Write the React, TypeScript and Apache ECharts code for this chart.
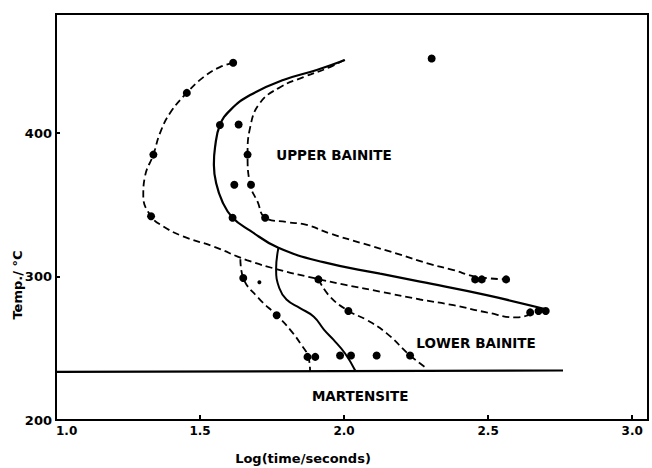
import React, { useEffect, useRef } from "react";
import * as echarts from "echarts";

// Experimental points: [log(time/s), temperature °C]
const dotPoints: number[][] = [
  [1.615, 449], [1.454, 428], [1.569, 405.6], [1.634, 406], [1.338, 385],
  [1.665, 385], [1.619, 364], [1.677, 364], [1.33, 342], [1.613, 341],
  [1.726, 341], [2.304, 452],
  [1.65, 299], [1.911, 298], [1.766, 273], [2.015, 276],
  [1.873, 244], [1.9, 244], [1.986, 245], [2.024, 245], [2.113, 245], [2.229, 245],
  [2.455, 298], [2.478, 298], [2.5625, 298], [2.646, 275], [2.675, 276], [2.7, 276],
];
const smallDots: number[][] = [[1.706, 296]];

// Curves
const outerDashed: number[][] = [
  [1.615, 449], [1.569, 446], [1.512, 439], [1.454, 428], [1.396, 414], [1.361, 400],
  [1.338, 385], [1.309, 370], [1.303, 356], [1.33, 342], [1.372, 335], [1.441, 328],
  [1.546, 321], [1.662, 311.5], [1.778, 304.5], [1.893, 299], [2.009, 294],
  [2.125, 289.5], [2.264, 284], [2.38, 280], [2.495, 275], [2.6, 271.5], [2.64, 273],
];
const innerDashed: number[][] = [
  [2.0, 451], [1.951, 446], [1.859, 439], [1.778, 432], [1.708, 421], [1.674, 404],
  [1.665, 385], [1.674, 364], [1.7, 352], [1.726, 341], [1.8, 338], [1.87, 336],
  [1.951, 330], [2.066, 323], [2.183, 316], [2.293, 309], [2.38, 304.5], [2.455, 300],
  [2.5625, 298],
];
const upperSolid: number[][] = [
  [2.003, 451], [1.905, 444], [1.789, 437], [1.674, 426.5], [1.605, 416], [1.569, 405.6],
  [1.552, 390], [1.548, 378], [1.556, 365], [1.578, 352], [1.613, 341], [1.674, 332],
  [1.772, 320], [1.928, 310], [2.125, 302], [2.264, 296.4], [2.495, 287], [2.704, 277],
];
const lowerSolid: number[][] = [
  [1.772, 320], [1.764, 305], [1.775, 292], [1.8, 284], [1.847, 278], [1.895, 272],
  [1.93, 263], [1.963, 256], [2.003, 246.5], [2.04, 234],
];
const lowerLeftDashed: number[][] = [
  [1.64, 312], [1.65, 299], [1.703, 285], [1.766, 273], [1.8125, 263], [1.853, 252],
  [1.876, 244], [1.882, 234],
];
const lowerRightDashed: number[][] = [
  [1.911, 298], [1.951, 286], [2.015, 276], [2.079, 269.7], [2.148, 260.4],
  [2.229, 245], [2.287, 236],
];
const martensiteLine: number[][] = [[1.0, 233.5], [2.76, 234.5]];

const regionLabels = [
  { name: "UPPER BAINITE", value: [1.965, 385] },
  { name: "LOWER BAINITE", value: [2.458, 254] },
  { name: "MARTENSITE", value: [2.056, 216.5] },
];

const xMin = 1.0;
const xMax = 3.055;
const yMin = 200;
const yMax = 483;

const FONT = "DejaVu Sans";

export default function App() {
  const ref = useRef<HTMLDivElement>(null);
  useEffect(() => {
    if (!ref.current) return;
    const chart = echarts.init(ref.current, null, { renderer: "svg" });
    const lineSeries = (data: number[][], dashed: boolean, width = 2) => ({
      type: "line",
      data,
      smooth: 0.45,
      showSymbol: false,
      symbol: "none",
      silent: true,
      lineStyle: {
        color: "#000",
        width,
        type: dashed ? [7, 4] : "solid",
      },
      z: 2,
    });
    chart.setOption({
      animation: false,
      backgroundColor: "#fff",
      grid: {
        left: 56,
        right: 4,
        top: 14,
        bottom: 48,
        show: true,
        borderColor: "#000",
        borderWidth: 2,
      },
      xAxis: {
        type: "value",
        min: xMin,
        max: xMax,
        interval: 0.5,
        splitLine: { show: false },
        axisLine: { lineStyle: { color: "#000", width: 2 } },
        axisTick: { inside: true, length: 5, lineStyle: { color: "#000", width: 2 } },
        axisLabel: {
          color: "#000",
          fontFamily: FONT,
          fontWeight: "bold",
          fontSize: 12,
          margin: 5,
          alignMinLabel: "left",
          formatter: (v: number) =>
            Math.abs(v * 2 - Math.round(v * 2)) < 1e-6 ? v.toFixed(1) : "",
        },
      },
      yAxis: {
        type: "value",
        min: yMin,
        max: yMax,
        interval: 100,
        splitLine: { show: false },
        axisLine: { lineStyle: { color: "#000", width: 2 } },
        axisTick: { inside: true, length: 4, lineStyle: { color: "#000", width: 2 } },
        axisLabel: {
          color: "#000",
          fontFamily: FONT,
          fontWeight: "bold",
          fontSize: 13,
          margin: 4,
          formatter: (v: number) => (v % 100 === 0 ? String(v) : ""),
        },
      },
      graphic: [
        {
          type: "text",
          x: 17,
          y: 285,
          rotation: Math.PI / 2,
          style: {
            text: "Temp./ °C",
            fill: "#000",
            font: `bold 13px "${FONT}"`,
            align: "center",
            verticalAlign: "middle",
          },
        },
        {
          type: "text",
          x: 303,
          y: 458,
          style: {
            text: "Log(time/seconds)",
            fill: "#000",
            font: `bold 13px "${FONT}"`,
            align: "center",
            verticalAlign: "middle",
          },
        },
      ],
      series: [
        lineSeries(outerDashed, true, 1.8),
        lineSeries(innerDashed, true, 1.8),
        lineSeries(upperSolid, false, 2.2),
        lineSeries(lowerSolid, false, 2),
        lineSeries(lowerLeftDashed, true, 1.8),
        lineSeries(lowerRightDashed, true, 1.8),
        { ...lineSeries(martensiteLine, false, 2.2), smooth: false },
        {
          type: "scatter",
          data: dotPoints,
          symbol: "circle",
          symbolSize: 8,
          itemStyle: { color: "#000", opacity: 1 },
          silent: true,
          z: 3,
        },
        {
          type: "scatter",
          data: smallDots,
          symbol: "circle",
          symbolSize: 4,
          itemStyle: { color: "#000", opacity: 1 },
          silent: true,
          z: 3,
        },
        {
          type: "scatter",
          data: regionLabels,
          symbolSize: 0,
          silent: true,
          itemStyle: { opacity: 1 },
          label: {
            show: true,
            position: "inside",
            formatter: (p: any) => p.name,
            color: "#000",
            opacity: 1,
            fontFamily: FONT,
            fontWeight: "bold",
            fontSize: 13.5,
          },
          z: 4,
        },
      ],
    });
    return () => chart.dispose();
  }, []);
  return (
    <div
      ref={ref}
      style={{ position: "fixed", left: 0, top: 0, width: 652, height: 468 }}
    />
  );
}
